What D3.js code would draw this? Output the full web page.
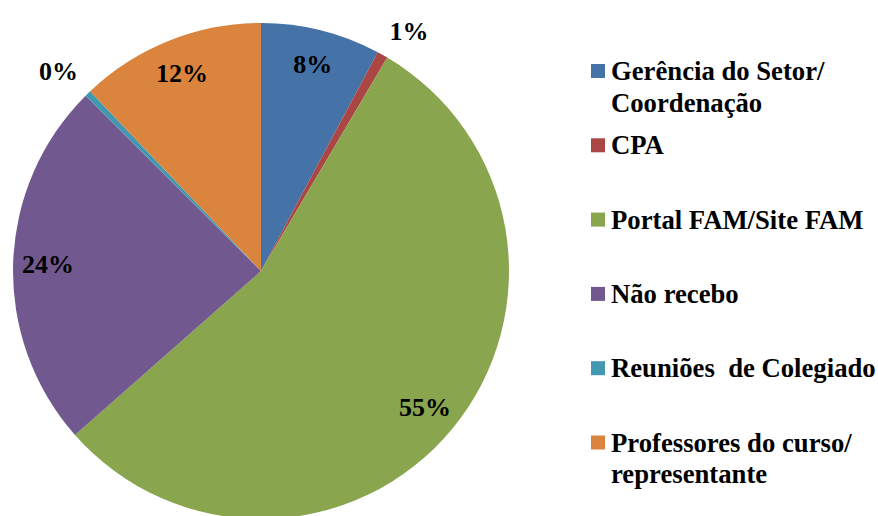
<!DOCTYPE html>
<html>
<head>
<meta charset="utf-8">
<script src="https://cdn.jsdelivr.net/npm/d3@7"></script>
</head>
<body style="margin:0;background:#fff">
<svg id="chart" width="878" height="516" style="display:block"></svg>
<script>
const categories = [
  "Gerência do Setor/\nCoordenação",
  "CPA",
  "Portal FAM/Site FAM",
  "Não recebo",
  "Reuniões  de Colegiado",
  "Professores do curso/\nrepresentante"
];
const values = [7.8, 0.7, 55.0, 24.0, 0.4, 12.1];
const colors = ["#4572A7", "#AA4643", "#89A54E", "#71588F", "#4198AF", "#DB843D"];
const outsideLabel = [false, true, false, false, true, false];

const FONT = "Liberation Serif";
const svg = d3.select("#chart");
const cx = 261, cy = 271, R = 248;
const labelSize = 26, legendSize = 26.7;
const total = d3.sum(values);

const pie = d3.pie().sort(null).value(d => d).startAngle(0).endAngle(2 * Math.PI);
const arcs = pie(values);
const arc = d3.arc().innerRadius(0).outerRadius(R);

const g = svg.append("g").attr("transform", `translate(${cx},${cy})`);
g.selectAll("path.slice").data(arcs).join("path")
  .attr("class", "slice")
  .attr("d", arc)
  .attr("fill", (d, i) => colors[i]);

const fmt = v => Math.round(v / total * 100) + "%";
const inArc = d3.arc().innerRadius(213).outerRadius(213);

arcs.forEach((d, i) => {
  const mid = (d.startAngle + d.endAngle) / 2;
  const t = g.append("text")
    .attr("font-family", FONT)
    .attr("font-weight", "bold")
    .attr("font-size", labelSize)
    .attr("fill", "#000")
    .text(fmt(values[i]));
  if (!outsideLabel[i]) {
    const [x, y] = inArc.centroid(d);
    t.attr("x", x).attr("y", y).attr("dy", "0.34em").attr("text-anchor", "middle");
  } else {
    const rho = 262;
    const x = rho * Math.sin(mid), y = -rho * Math.cos(mid);
    t.attr("x", x).attr("y", y - 3).attr("text-anchor", x >= 0 ? "start" : "end");
  }
});

// Legend
const legX = 591, textX = 611, firstBaseline = 80, entryStep = 74.3, lineStep = 31.5, sq = 14;
const leg = svg.append("g");
categories.forEach((c, i) => {
  const base = firstBaseline + i * entryStep;
  leg.append("rect")
    .attr("x", legX).attr("y", base - 16)
    .attr("width", sq).attr("height", sq)
    .attr("fill", colors[i]);
  const t = leg.append("text")
    .attr("x", textX).attr("y", base)
    .attr("font-family", FONT)
    .attr("font-weight", "bold")
    .attr("font-size", legendSize)
    .attr("fill", "#000")
    .attr("xml:space", "preserve")
    .style("white-space", "pre");
  c.split("\n").forEach((line, j) => {
    t.append("tspan").attr("x", textX).attr("y", base + j * lineStep).text(line);
  });
});
</script>
</body>
</html>
